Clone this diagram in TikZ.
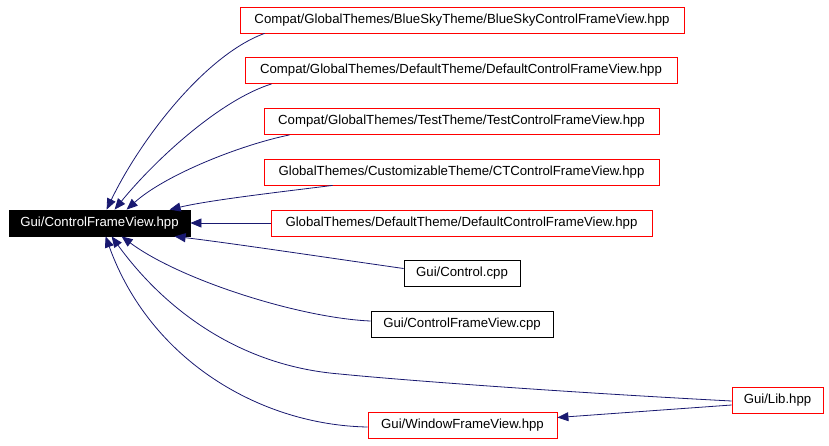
\documentclass[tikz,border=0pt]{standalone}
\usepackage{fontspec}
\setmainfont{Liberation Sans}
\usepackage{tikz}
\usetikzlibrary{arrows.meta}

\definecolor{edgeblue}{RGB}{25,25,112}

\begin{document}
\begin{tikzpicture}[x=1pt, y=-1pt,
    file/.style={draw=red, line width=0.8pt, rectangle, inner sep=0pt,
        minimum height=26pt, font=\fontsize{13.2}{15}\selectfont},
    srcfile/.style={file, draw=black},
    dep/.style={draw=edgeblue, line width=0.8pt, -{Triangle[length=11pt,width=9pt]}}]

    \useasboundingbox (0,0) rectangle (829,445);

    \node[file, fill=black, draw=black, text=white, minimum width=181pt] (ctrlhpp) at (99.5,223) {Gui/ControlFrameView.hpp};

    \node[file, minimum width=444pt] (bluesky)   at (462,20)    {Compat/GlobalThemes/BlueSkyTheme/BlueSkyControlFrameView.hpp};
    \node[file, minimum width=432pt] (compatdef) at (461,70.5)  {Compat/GlobalThemes/DefaultTheme/DefaultControlFrameView.hpp};
    \node[file, minimum width=395pt] (testtheme) at (461.5,121.5) {Compat/GlobalThemes/TestTheme/TestControlFrameView.hpp};
    \node[file, minimum width=395pt] (custom)    at (461.5,172) {GlobalThemes/CustomizableTheme/CTControlFrameView.hpp};
    \node[file, minimum width=381pt] (globaldef) at (461.5,223) {GlobalThemes/DefaultTheme/DefaultControlFrameView.hpp};

    \node[srcfile, minimum width=116pt] (ctrlcpp) at (462,273.5) {Gui/Control.cpp};
    \node[srcfile, minimum width=182pt] (cfvcpp)  at (462,324)   {Gui/ControlFrameView.cpp};

    \node[file, minimum width=91pt]  (libhpp) at (777.5,400)   {Gui/Lib.hpp};
    \node[file, minimum width=189pt] (wfvhpp) at (462.5,425.5) {Gui/WindowFrameView.hpp};

    % headers above
    \draw[dep] ([xshift=25pt]bluesky.south west) .. controls (205,55) and (140,140) .. ([xshift=98pt]ctrlhpp.north west);
    \draw[dep] ([xshift=27pt]compatdef.south west) .. controls (220,100) and (155,160) .. ([xshift=106pt]ctrlhpp.north west);
    \draw[dep] ([xshift=26pt]testtheme.south west) .. controls (240,145) and (165,175) .. ([xshift=118pt]ctrlhpp.north west);
    \draw[dep] ([xshift=69pt]custom.south west) .. controls (280,192) and (210,200) .. ([xshift=161pt]ctrlhpp.north west);
    \draw[dep] (globaldef.west) -- (ctrlhpp.east);

    % files below
    \draw[dep] ([yshift=5pt]ctrlcpp.west) .. controls (330,258) and (230,243) .. ([xshift=166pt]ctrlhpp.south west);
    \draw[dep] ([yshift=3pt]cfvcpp.west) .. controls (300,318) and (180,280) .. ([xshift=113pt]ctrlhpp.south west);
    \draw[dep] ([yshift=-1pt]libhpp.west) .. controls (560,392) and (400,380) .. (340,374)
        .. controls (240,366) and (165,310) .. ([xshift=103pt]ctrlhpp.south west);
    \draw[dep] ([yshift=-1.5pt]wfvhpp.west) .. controls (260,425) and (150,360) .. ([xshift=97pt]ctrlhpp.south west);

    \draw[dep] ([yshift=-5pt]libhpp.west) -- ([yshift=8pt]wfvhpp.east);

\end{tikzpicture}
\end{document}
